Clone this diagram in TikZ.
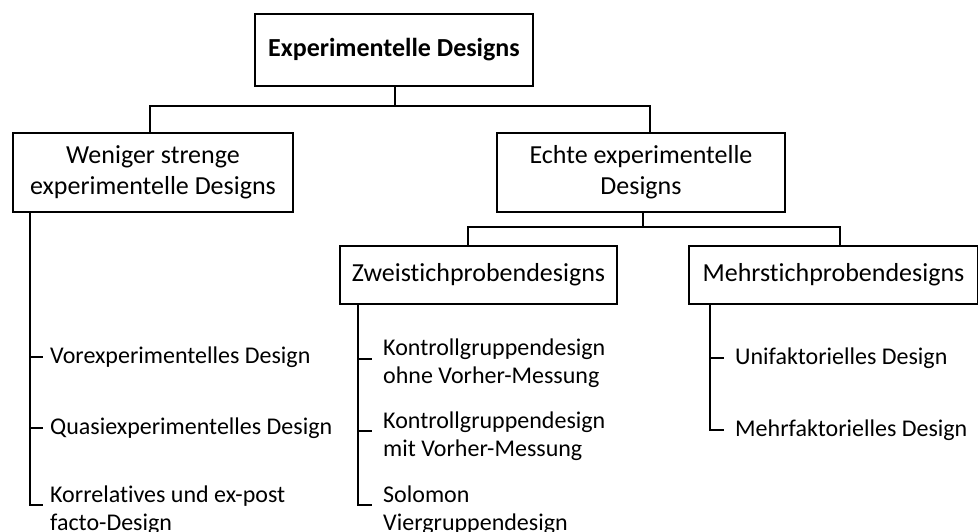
\documentclass[tikz,border=0pt]{standalone}
\usepackage{fontspec}
\setmainfont{Carlito}[Ligatures=NoCommon]
\begin{document}
\begin{tikzpicture}[x=1pt,y=-1pt,
  box/.style={draw,line width=2pt,inner sep=0pt,align=center,font=\fontsize{26}{31}\selectfont},
  item/.style={anchor=west,inner sep=0pt,align=left,font=\fontsize{24}{28}\selectfont},
  conn/.style={line width=2pt}]
\useasboundingbox (0,0) rectangle (978,531);

% boxes
\node[box,minimum width=278,minimum height=72,font=\fontsize{26}{31}\selectfont\bfseries] (top) at (394,50) {Experimentelle Designs};
\node[box,minimum width=280,minimum height=79] (weniger) at (153,172.5) {Weniger strenge\\experimentelle Designs};
\node[box,minimum width=288,minimum height=79] (echte) at (641,172.5) {Echte experimentelle\\Designs};
\node[box,minimum width=277,minimum height=58] (zwei) at (478.5,275) {Zweistichprobendesigns};
\node[box,minimum width=289,minimum height=58] (mehr) at (833.5,275) {Mehrstichprobendesigns};

% level 1 connectors
\coordinate (j1) at (395,106);
\draw[conn] (top.south -| j1) -- (j1);
\draw[conn] (weniger.north -| 150,0) |- (j1) -| (echte.north -| 650,0);

% level 2 connectors
\coordinate (j2) at (643,227);
\draw[conn] (echte.south -| j2) -- (j2);
\draw[conn] (zwei.north -| 468,0) |- (j2) -| (mehr.north -| 840,0);

% leaf items
\node[item] (w1) at (50,357) {Vorexperimentelles Design};
\node[item] (w2) at (50,428) {Quasiexperimentelles Design};
\node[item] (w3) at (50,510) {Korrelatives und ex-post\\facto-Design};

\node[item] (z1) at (383,363) {Kontrollgruppendesign\\ohne Vorher-Messung};
\node[item] (z2) at (383,436) {Kontrollgruppendesign\\mit Vorher-Messung};
\node[item] (z3) at (383,510) {Solomon\\Viergruppendesign};

\node[item] (m1) at (735,358) {Unifaktorielles Design};
\node[item] (m2) at (735,430) {Mehrfaktorielles Design};

% leaf connectors
\draw[conn] (weniger.south -| 30,0) |- ([xshift=-7pt]w3.west |- 0,505);
\draw[conn] (30,357) -- ([xshift=-7pt]w1.west);
\draw[conn] (30,428) -- ([xshift=-7pt]w2.west);

\draw[conn] (zwei.south -| 358,0) |- ([xshift=-11pt]z3.west |- 0,505);
\draw[conn] (358,359) -- ([xshift=-11pt]z1.west |- 0,359);
\draw[conn] (358,431) -- ([xshift=-11pt]z2.west |- 0,431);

\draw[conn] (mehr.south -| 710,0) |- ([xshift=-11pt]m2.west);
\draw[conn] (710,358) -- ([xshift=-11pt]m1.west);
\end{tikzpicture}
\end{document}
